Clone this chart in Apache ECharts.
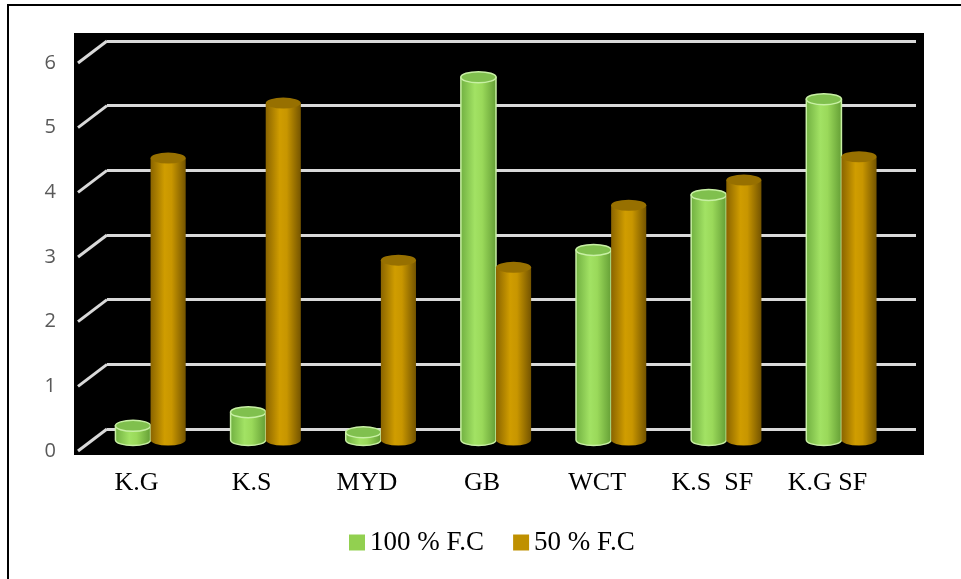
<!DOCTYPE html>
<html>
<head>
<meta charset="utf-8">
<script src="https://cdn.jsdelivr.net/npm/echarts@6/dist/echarts.min.js"></script>
<style>
  html, body { margin: 0; padding: 0; background: #fff; }
  #chart { width: 961px; height: 579px; }
</style>
</head>
<body>
<div id="chart"></div>
<script>
// Categories and measured values
const categories = ['K.G', 'K.S', 'MYD', 'GB', 'WCT', 'K.S  SF', 'K.G SF'];
const fc100 = [0.22, 0.43, 0.12, 5.61, 2.94, 3.79, 5.27];
const fc50 = [4.36, 5.21, 2.78, 2.67, 3.63, 4.02, 4.38];
const seriesNames = ['100 % F.C', '50 % F.C'];
const yTicks = [0, 1, 2, 3, 4, 5, 6];

// Pseudo-3D depth offset between front edge and back wall
const DEPTH_DX = 28;
const DEPTH_DY = 22;

const front = { left: 79, right: 76, top: 63, bottom: 128 };
const back = {
  left: front.left + DEPTH_DX, right: 45,
  top: front.top - DEPTH_DY, bottom: front.bottom + DEPTH_DY
};
const mid = {
  left: front.left + DEPTH_DX / 2, right: front.right - DEPTH_DX / 2,
  top: front.top - DEPTH_DY / 2, bottom: front.bottom + DEPTH_DY / 2
};

const chart = echarts.init(document.getElementById('chart'), null, { renderer: 'canvas' });

const styles = [
  {
    body: new echarts.graphic.LinearGradient(0, 0, 1, 0, [
      { offset: 0, color: '#6fae40' },
      { offset: 0.4, color: '#a2e264' },
      { offset: 0.6, color: '#9ad95a' },
      { offset: 1, color: '#629c34' }
    ]),
    top: '#80c04e',
    stroke: '#c8f0a4',
    lineWidth: 1.5,
    legend: '#92d050'
  },
  {
    body: new echarts.graphic.LinearGradient(0, 0, 1, 0, [
      { offset: 0, color: '#8a6400' },
      { offset: 0.4, color: '#d09d00' },
      { offset: 0.6, color: '#c89600' },
      { offset: 1, color: '#745400' }
    ]),
    top: '#977000',
    stroke: 'rgba(0,0,0,0)',
    lineWidth: 0,
    legend: '#bf9000'
  }
];

function ellipsePath(cx, cy, rx, ry) {
  return 'M' + (cx - rx) + ' ' + cy +
    ' A' + rx + ' ' + ry + ' 0 1 0 ' + (cx + rx) + ' ' + cy +
    ' A' + rx + ' ' + ry + ' 0 1 0 ' + (cx - rx) + ' ' + cy + ' Z';
}

function cylinderRenderer(idx) {
  const st = styles[idx];
  return function (params, api) {
    const cat = api.value(0);
    const v = api.value(1);
    const base = api.coord([cat, 0]);
    const top = api.coord([cat, v]);
    const catW = api.size([1, 0])[0];
    const w = catW * 0.305;
    const x0 = idx === 0 ? base[0] - w : base[0];
    const x1 = x0 + w;
    const cx = (x0 + x1) / 2;
    const rx = w / 2;
    const ry = 5.5;
    const bodyPath = 'M' + x0 + ' ' + top[1] +
      ' L' + x0 + ' ' + base[1] +
      ' A' + rx + ' ' + ry + ' 0 0 0 ' + x1 + ' ' + base[1] +
      ' L' + x1 + ' ' + top[1] + ' Z';
    return {
      type: 'group',
      children: [
        {
          type: 'path',
          shape: { pathData: bodyPath },
          style: { fill: st.body, stroke: st.stroke, lineWidth: st.lineWidth }
        },
        {
          type: 'path',
          shape: { pathData: ellipsePath(cx, top[1], rx, ry) },
          style: { fill: st.top, stroke: st.stroke, lineWidth: st.lineWidth }
        }
      ]
    };
  };
}

const option = {
  backgroundColor: '#ffffff',
  animation: false,
  graphic: [
    { type: 'rect', z: -10, shape: { x: 74, y: 33, width: 850, height: 422 }, style: { fill: '#000000' } },
    { type: 'polyline', z: 10, shape: { points: [[8, 579], [8, 5], [961, 5]] }, style: { stroke: '#000', lineWidth: 2, fill: null } }
  ],
  grid: [
    { left: back.left, right: back.right, top: back.top, bottom: back.bottom },
    { left: front.left, right: front.right, top: front.top, bottom: front.bottom },
    { left: mid.left, right: mid.right, top: mid.top, bottom: mid.bottom }
  ],
  xAxis: [
    { gridIndex: 0, type: 'category', data: categories, show: false },
    {
      gridIndex: 1, type: 'category', data: categories,
      axisLine: { show: false }, axisTick: { show: false },
      axisLabel: { margin: 19, color: '#000', fontFamily: 'Liberation Serif', fontSize: 26, interval: 0 }
    },
    { gridIndex: 2, type: 'category', data: categories, show: false }
  ],
  yAxis: [
    {
      gridIndex: 0, type: 'value', min: 0, max: 6, interval: 1,
      axisLine: { show: false }, axisTick: { show: false }, axisLabel: { show: false },
      splitLine: { show: true, lineStyle: { color: '#d9d9d9', width: 3 } }
    },
    {
      gridIndex: 1, type: 'value', min: 0, max: 6, interval: 1,
      axisLine: { show: false }, axisTick: { show: false }, splitLine: { show: false },
      axisLabel: { margin: 23, color: '#595959', fontFamily: 'Open Sans', fontSize: 20 }
    },
    { gridIndex: 2, type: 'value', min: 0, max: 6, interval: 1, show: false, splitLine: { show: false } }
  ],
  legend: {
    data: seriesNames,
    left: 344, top: 524,
    itemWidth: 16, itemHeight: 16, itemGap: 29,
    icon: 'rect',
    textStyle: { color: '#000', fontFamily: 'Liberation Serif', fontSize: 27 }
  },
  series: [
    {
      // side wall diagonals joining the front edge to the back wall grid lines
      type: 'custom', xAxisIndex: 1, yAxisIndex: 1, silent: true,
      data: yTicks.map(v => [0, v]),
      renderItem: function (params, api) {
        const p = api.coord([0, api.value(1)]);
        const x = params.coordSys.x - 1;
        return {
          type: 'line',
          shape: { x1: x, y1: p[1], x2: x + DEPTH_DX + 1, y2: p[1] - DEPTH_DY },
          style: { stroke: '#d9d9d9', lineWidth: 3 }
        };
      }
    },
    {
      name: seriesNames[0], type: 'custom', xAxisIndex: 2, yAxisIndex: 2,
      itemStyle: { color: styles[0].legend },
      data: fc100.map((v, i) => [i, v]),
      renderItem: cylinderRenderer(0)
    },
    {
      name: seriesNames[1], type: 'custom', xAxisIndex: 2, yAxisIndex: 2,
      itemStyle: { color: styles[1].legend },
      data: fc50.map((v, i) => [i, v]),
      renderItem: cylinderRenderer(1)
    }
  ]
};

chart.setOption(option);
</script>
</body>
</html>
